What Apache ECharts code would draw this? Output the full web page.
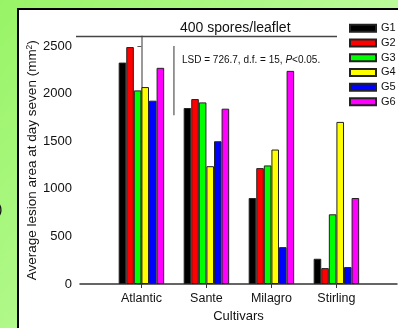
<!DOCTYPE html>
<html>
<head>
<meta charset="utf-8">
<script src="https://cdn.jsdelivr.net/npm/echarts@6/dist/echarts.min.js"></script>
<style>
  html, body { margin: 0; padding: 0; }
  #chart { width: 398px; height: 328px; }
</style>
</head>
<body>
<div id="chart"></div>
<script>
const cultivars = ['Atlantic', 'Sante', 'Milagro', 'Stirling']
const groups = ['G1', 'G2', 'G3', 'G4', 'G5', 'G6']
const colors = ['#000000', '#ff0000', '#00ff00', '#ffff00', '#0000ff', '#ff00ff']

// lesion area (mm2) per group, in cultivar order
const g1 = [2325, 1848, 903, 265]
const g2 = [2488, 1942, 1217, 167]
const g3 = [2033, 1907, 1245, 732]
const g4 = [2068, 1237, 1412, 1702]
const g5 = [1925, 1499, 387, 178]
const g6 = [2270, 1841, 2238, 903]

const yTicks = [0, 500, 1000, 1500, 2000, 2500]
const LSD = 726.7
const lsdAt = 0.5 // between Atlantic and Sante
const lsdTop = 2500

const FONT = 'Liberation Sans, Arial, sans-serif'
const chart = echarts.init(document.getElementById('chart'))

const seriesData = [g1, g2, g3, g4, g5, g6]

const barSeries = groups.map((name, k) => ({
  name,
  type: 'bar',
  data: seriesData[k].map((v, i) => [i, v]),
  barGap: 0,
  barCategoryGap: '30%',
  itemStyle: { color: colors[k], borderColor: '#222', borderWidth: 1 },
}))

chart.setOption({
  animation: false,
  backgroundColor: {
    type: 'linear', x: 0, y: 0, x2: 1, y2: 1,
    colorStops: [
      { offset: 0, color: '#98f466' },
      { offset: 1, color: '#d2ffbc' },
    ],
  },
  textStyle: { fontFamily: FONT },
  title: {
    text: '400 spores/leaflet',
    left: 175, top: 16,
    textStyle: { fontSize: 14, fontWeight: 'normal', color: '#111', fontFamily: FONT },
  },
  legend: {
    orient: 'vertical',
    left: 344, top: 17,
    itemWidth: 26, itemHeight: 7,
    itemGap: 2,
    icon: 'rect',
    data: groups,
    textStyle: { fontSize: 11, color: '#111', lineHeight: 12.7, fontFamily: FONT },
  },
  graphic: [
    {
      type: 'rect', z: -10, silent: true,
      shape: { x: 18, y: 9, width: 400, height: 340 },
      style: { fill: '#ffffff', stroke: '#000000', lineWidth: 2 },
    },
    {
      type: 'line', z: 5, silent: true,
      shape: { x1: 76, y1: 36.5, x2: 337, y2: 36.5 },
      style: { stroke: '#444', lineWidth: 1.5 },
    },
    {
      type: 'text', silent: true,
      style: {
        x: 182, y: 60, verticalAlign: 'middle',
        text: 'LSD = 726.7, d.f. = 15, {i|P}<0.05.',
        fontSize: 10, fill: '#111', fontFamily: FONT,
        rich: { i: { fontStyle: 'italic', fontSize: 10, fill: '#111', fontFamily: FONT } },
      },
    },
    {
      type: 'text', silent: true,
      style: { x: 2.5, y: 210, align: 'right', verticalAlign: 'middle', text: '(b)', fontSize: 15, fill: '#111' },
    },
  ],
  grid: { left: 80, right: 1, top: 36.4, bottom: 43 },
  xAxis: {
    type: 'value',
    min: -0.945, max: 3.932,
    name: 'Cultivars',
    nameLocation: 'middle',
    nameGap: 26,
    nameMoveOverlap: false,
    nameTextStyle: { fontSize: 13, color: '#111', fontFamily: FONT },
    splitLine: { show: false },
    axisLine: { lineStyle: { color: '#333', width: 1.5 } },
    axisTick: { customValues: [0, 1, 2, 3], length: 4, lineStyle: { color: '#333' } },
    axisLabel: {
      customValues: [0, 1, 2, 3],
      formatter: (v) => cultivars[Math.round(v)],
      fontSize: 12.5, color: '#111', margin: 8,
    },
  },
  yAxis: {
    type: 'value',
    min: 0, max: 2600,
    name: 'Average lesion area at day seven (mm{s|2})',
    nameLocation: 'middle',
    nameGap: 40,
    nameMoveOverlap: false,
    nameTextStyle: {
      fontSize: 13.5, color: '#111', fontFamily: FONT,
      rich: { s: { fontSize: 8.5, verticalAlign: 'top', color: '#111', padding: [0, 0, 6, 0] } },
    },
    splitLine: { show: false },
    axisLine: { show: true, lineStyle: { color: '#888', width: 1.7 } },
    axisTick: { show: true, customValues: yTicks, length: 4, lineStyle: { color: '#555' } },
    axisLabel: { customValues: yTicks, formatter: (v) => String(v), fontSize: 13, color: '#111', margin: 8 },
  },
  series: [
    ...barSeries,
    {
      name: 'LSD',
      type: 'line',
      data: [[lsdAt, lsdTop], [lsdAt, lsdTop - LSD]],
      symbol: 'none',
      lineStyle: { color: '#777', width: 1.5 },
      z: 3,
    },
  ],
})
</script>
</body>
</html>
